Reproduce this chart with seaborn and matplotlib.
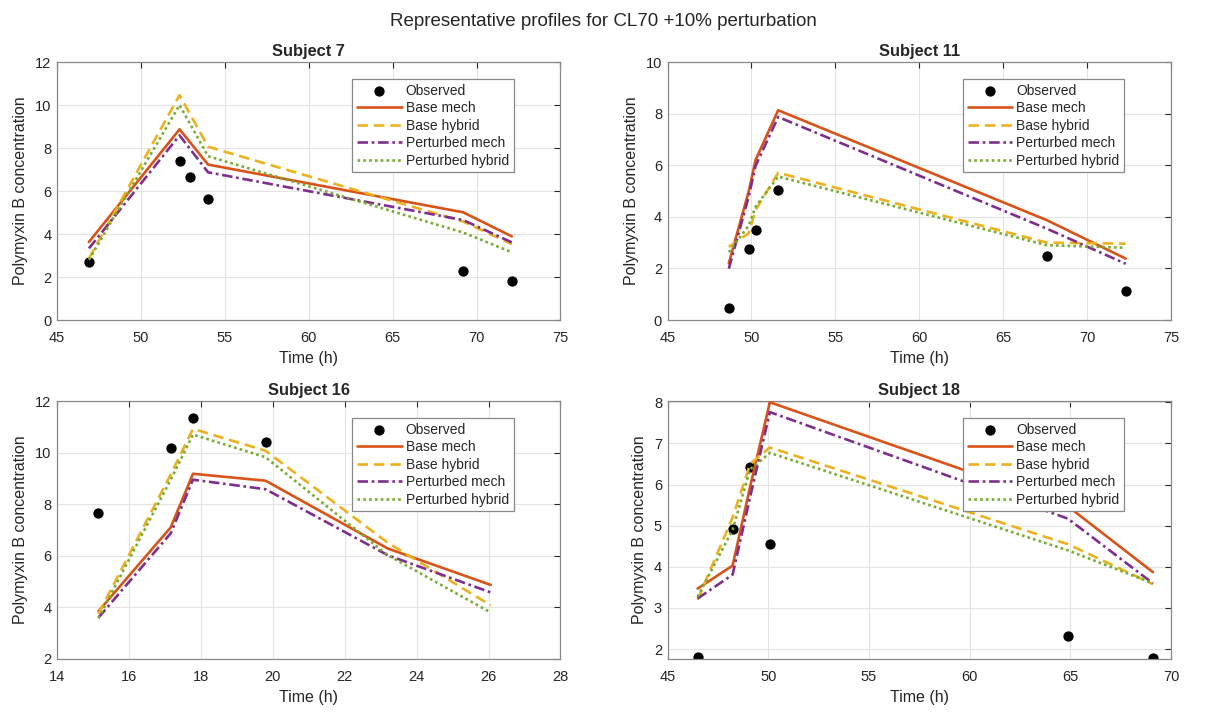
import matplotlib
matplotlib.use('Agg')
import matplotlib.pyplot as plt
import seaborn as sns

# Subject 7
s7_obs_t = [46.9, 52.3, 52.9, 54.0, 69.2, 72.1]
s7_obs_c = [2.70, 7.41, 6.65, 5.63, 2.28, 1.81]
s7_t = [46.9, 52.3, 54.0, 69.2, 72.1]
s7_base_mech = [3.63, 8.87, 7.23, 5.01, 3.89]
s7_base_hyb = [2.86, 10.46, 8.06, 4.58, 3.53]
s7_pert_mech = [3.33, 8.59, 6.87, 4.65, 3.61]
s7_pert_hyb = [2.80, 10.00, 7.62, 4.07, 3.15]

# Subject 11
s11_obs_t = [48.65, 49.84, 50.24, 51.59, 67.6, 72.3]
s11_obs_c = [0.48, 2.77, 3.47, 5.04, 2.47, 1.14]
s11_t = [48.65, 49.84, 50.24, 51.59, 67.6, 72.3]
s11_base_mech = [2.20, 5.00, 6.20, 8.13, 3.87, 2.38]
s11_base_hyb = [2.83, 3.37, 4.26, 5.71, 3.00, 2.96]
s11_pert_mech = [1.99, 4.80, 5.97, 7.87, 3.54, 2.18]
s11_pert_hyb = [2.63, 3.67, 4.39, 5.56, 2.90, 2.80]

# Subject 16
s16_obs_t = [15.15, 17.16, 17.78, 19.8]
s16_obs_c = [7.66, 10.16, 11.35, 10.41]
s16_t = [15.15, 17.16, 17.78, 19.8, 23.2, 26.06]
s16_base_mech = [3.85, 7.10, 9.18, 8.91, 6.28, 4.87]
s16_base_hyb = [3.75, 9.15, 10.92, 10.07, 6.50, 4.08]
s16_pert_mech = [3.60, 6.87, 8.95, 8.58, 6.02, 4.58]
s16_pert_hyb = [3.58, 8.95, 10.70, 9.82, 6.02, 3.80]

# Subject 18
s18_obs_t = [46.49, 48.23, 49.1, 50.08, 64.88, 69.1]
s18_obs_c = [1.81, 4.92, 6.43, 4.55, 2.31, 1.78]
s18_t = [46.49, 48.23, 49.1, 50.08, 64.88, 69.1]
s18_base_mech = [3.47, 4.03, 5.95, 8.00, 5.47, 3.87]
s18_base_hyb = [3.20, 5.20, 6.50, 6.90, 4.55, 3.58]
s18_pert_mech = [3.23, 3.81, 5.70, 7.76, 5.17, 3.60]
s18_pert_hyb = [3.27, 4.90, 6.37, 6.77, 4.40, 3.60]

subjects = [
    ('Subject 7', s7_obs_t, s7_obs_c, s7_t, s7_base_mech, s7_base_hyb, s7_pert_mech, s7_pert_hyb,
     (45, 75), range(45, 76, 5), (0, 12), range(0, 13, 2)),
    ('Subject 11', s11_obs_t, s11_obs_c, s11_t, s11_base_mech, s11_base_hyb, s11_pert_mech, s11_pert_hyb,
     (45, 75), range(45, 76, 5), (0, 10), range(0, 11, 2)),
    ('Subject 16', s16_obs_t, s16_obs_c, s16_t, s16_base_mech, s16_base_hyb, s16_pert_mech, s16_pert_hyb,
     (14, 28), range(14, 29, 2), (2, 12), range(2, 13, 2)),
    ('Subject 18', s18_obs_t, s18_obs_c, s18_t, s18_base_mech, s18_base_hyb, s18_pert_mech, s18_pert_hyb,
     (45, 70), range(45, 71, 5), (1.76, 8.03), range(2, 9, 1)),
]

sns.set_theme(style='whitegrid')
plt.rcParams['font.family'] = ['Liberation Sans', 'DejaVu Sans']

c_orange = '#D95319'
c_yellow = '#EDB120'
c_purple = '#7E2F8E'
c_green = '#77AC30'
lw = 1.9

fig, axes = plt.subplots(2, 2, figsize=(12.06, 7.18), dpi=100)
fig.subplots_adjust(left=0.0473, right=0.971, top=0.9136, bottom=0.0822, wspace=0.2127, hspace=0.314)

for ax, (title, ot, oc, t, bm, bh, pm, ph, xl, xt, yl, yt) in zip(axes.flat, subjects):
    sns.scatterplot(x=ot, y=oc, ax=ax, color='black', s=55, edgecolor='black', linewidth=0,
                    label='Observed', zorder=2)
    sns.lineplot(x=t, y=bm, ax=ax, color=c_orange, lw=lw, label='Base mech', zorder=3)
    sns.lineplot(x=t, y=bh, ax=ax, color=c_yellow, lw=lw, linestyle=(0, (4, 2.2)),
                 label='Base hybrid', zorder=3)
    sns.lineplot(x=t, y=pm, ax=ax, color=c_purple, lw=lw, linestyle=(0, (4, 1.4, 1, 1.4)),
                 label='Perturbed mech', zorder=3)
    sns.lineplot(x=t, y=ph, ax=ax, color=c_green, lw=lw, linestyle=(0, (1, 1.2)),
                 label='Perturbed hybrid', zorder=3)

    ax.set_xlim(*xl)
    ax.set_xticks(list(xt))
    ax.set_ylim(*yl)
    ax.set_yticks(list(yt))
    ax.set_title(title, fontsize=11.8, fontweight='bold', pad=4)
    ax.set_xlabel('Time (h)', fontsize=11.5, labelpad=4)
    ax.set_ylabel('Polymyxin B concentration', fontsize=11.5, labelpad=5)
    ax.tick_params(axis='both', labelsize=10.5, direction='in', length=4, width=0.8,
                   top=True, right=True, colors='#262626')
    ax.tick_params(axis='x', pad=8)
    ax.tick_params(axis='y', pad=4)
    ax.grid(True, color='#e3e3e3', linewidth=0.8)
    for sp in ax.spines.values():
        sp.set_color('#888888')
        sp.set_linewidth(0.9)

    h, lab = ax.get_legend_handles_labels()
    leg = ax.legend(h, lab, loc='upper right', bbox_to_anchor=(0.907, 0.935), fontsize=10,
                    frameon=True, fancybox=False, framealpha=1, edgecolor='#888888',
                    handlelength=3.2, labelspacing=0.25, borderpad=0.35, handletextpad=0.3,
                    borderaxespad=0)
    leg.get_frame().set_linewidth(0.9)

fig.suptitle('Representative profiles for CL70 +10% perturbation', fontsize=13.5, y=0.982)

fig.savefig('out.png', dpi=100)
